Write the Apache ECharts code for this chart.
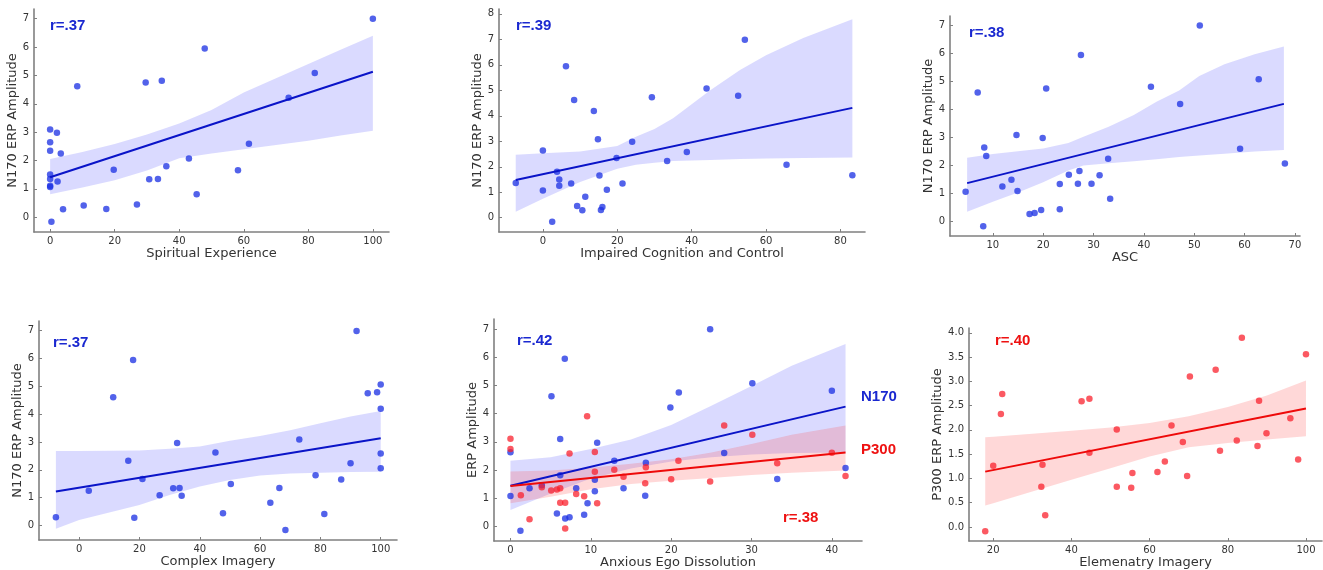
<!DOCTYPE html>
<html>
<head>
<meta charset="utf-8">
<script src="https://cdn.jsdelivr.net/npm/echarts@6/dist/echarts.min.js"></script>
<style>
  html, body { margin: 0; padding: 0; background: #fff; }
  #chart { width: 1323px; height: 570px; }
</style>
</head>
<body>
<div id="chart"></div>
<script>
// Spiritual Experience vs N170
const spiritualX = [0, 0, 0, 0, 0, 0, 0, 0.4, 2.1, 3.3, 2.3, 4.0, 8.4, 10.4, 17.4, 19.7, 26.9, 29.6, 30.7, 33.4, 34.6, 36.0, 43.0, 45.4, 47.9, 58.2, 61.6, 73.9, 82.0, 100];
const spiritualY = [3.09, 2.64, 2.34, 1.51, 1.35, 1.11, 1.07, -0.16, 2.98, 2.25, 1.26, 0.28, 4.62, 0.41, 0.29, 1.67, 0.45, 4.75, 1.34, 1.35, 4.81, 1.80, 2.07, 0.81, 5.95, 1.66, 2.59, 4.21, 5.08, 7.0];
const spiritualFitX = [0, 100];
const spiritualFitY = [1.41, 5.13];
const spiritualBandX = [0, 10, 20, 30, 40, 50, 60, 70, 80, 90, 100];
const spiritualBandHi = [2.05, 2.30, 2.58, 2.92, 3.30, 3.78, 4.40, 4.90, 5.40, 5.90, 6.40];
const spiritualBandLo = [0.81, 1.05, 1.30, 1.65, 2.08, 2.25, 2.40, 2.55, 2.70, 2.88, 3.05];

// Impaired Cognition and Control vs N170
const impairedX = [-7.3, 0, 0, 2.5, 3.8, 4.4, 4.4, 6.2, 7.6, 8.4, 9.2, 10.6, 11.4, 13.7, 14.8, 15.2, 15.6, 16.0, 17.2, 19.8, 21.4, 24.0, 29.3, 33.4, 38.7, 44.0, 52.5, 54.3, 65.5, 83.2];
const impairedY = [1.36, 2.64, 1.07, -0.16, 1.80, 1.50, 1.25, 5.94, 1.34, 4.62, 0.46, 0.29, 0.82, 4.19, 3.08, 1.66, 0.30, 0.42, 1.10, 2.34, 1.34, 2.98, 4.73, 2.23, 2.58, 5.07, 4.79, 6.98, 2.08, 1.67];
const impairedFitX = [-7.3, 83.2];
const impairedFitY = [1.48, 4.31];
const impairedBandX = [-7.3, 0, 10, 20, 25, 30, 35, 40, 45, 53, 60, 70, 83.2];
const impairedBandHi = [2.47, 2.53, 2.60, 2.81, 3.18, 3.48, 3.90, 4.45, 5.00, 5.80, 6.38, 7.05, 7.79];
const impairedBandLo = [0.23, 0.74, 1.40, 1.92, 2.08, 2.16, 2.23, 2.25, 2.27, 2.30, 2.32, 2.34, 2.36];

// ASC vs N170
const ascX = [4.6, 7.0, 8.1, 8.3, 8.7, 11.9, 13.7, 14.7, 14.9, 17.3, 18.3, 19.6, 19.9, 20.6, 23.3, 23.3, 25.1, 26.9, 27.2, 27.5, 29.6, 31.2, 32.9, 33.3, 41.4, 47.2, 51.1, 59.1, 62.8, 68.0];
const ascY = [1.06, 4.61, -0.17, 2.64, 2.34, 1.25, 1.49, 3.09, 1.09, 0.27, 0.30, 0.41, 2.98, 4.75, 1.34, 0.44, 1.67, 1.35, 1.80, 5.95, 1.35, 1.65, 2.24, 0.81, 4.81, 4.20, 7.0, 2.60, 5.08, 2.07];
const ascFitX = [4.9, 67.8];
const ascFitY = [1.37, 4.20];
const ascBandX = [4.9, 10, 15, 20, 25, 28, 33, 38, 42.5, 47, 51, 56, 62, 67.8];
const ascBandHi = [2.28, 2.41, 2.51, 2.61, 2.80, 3.03, 3.38, 3.80, 4.28, 4.68, 5.20, 5.62, 5.97, 6.25];
const ascBandLo = [0.35, 0.70, 1.03, 1.40, 1.82, 2.00, 2.08, 2.15, 2.22, 2.30, 2.36, 2.42, 2.50, 2.55];

// Complex Imagery vs N170
const complexX = [-7.7, 3.2, 11.3, 16.3, 17.9, 18.3, 21.0, 26.7, 31.2, 32.5, 33.3, 34.0, 45.2, 47.7, 50.3, 63.4, 66.4, 68.4, 73.0, 78.4, 81.3, 86.9, 90.0, 92.0, 95.7, 98.8, 100, 100, 100, 100];
const complexY = [0.30, 1.25, 4.61, 2.33, 5.95, 0.28, 1.67, 1.09, 1.34, 2.97, 1.35, 1.07, 2.62, 0.44, 1.49, 0.82, 1.35, -0.16, 3.09, 1.81, 0.41, 1.65, 2.24, 6.99, 4.75, 4.79, 5.07, 4.20, 2.59, 2.06];
const complexFitX = [-7.7, 100];
const complexFitY = [1.22, 3.14];
const complexBandX = [-7.7, 0, 10, 20, 30, 40, 50, 60, 70, 80, 90, 100];
const complexBandHi = [2.68, 2.68, 2.69, 2.70, 2.76, 2.84, 3.05, 3.22, 3.42, 3.68, 3.92, 4.12];
const complexBandLo = [-0.12, 0.20, 0.47, 0.74, 1.10, 1.40, 1.64, 1.80, 1.87, 1.90, 1.92, 1.93];

// Anxious Ego Dissolution vs N170 and P300
const anxiousN170X = [0, 0, 1.24, 2.37, 3.9, 5.1, 5.78, 6.19, 6.19, 6.76, 6.81, 7.35, 8.18, 9.17, 9.59, 10.5, 10.5, 10.79, 12.92, 14.07, 16.85, 16.77, 19.9, 20.95, 24.85, 26.6, 30.1, 33.2, 40, 41.7];
const anxiousN170Y = [2.63, 1.08, -0.16, 1.35, 1.46, 4.62, 0.46, 3.10, 1.81, 5.95, 0.28, 0.32, 1.35, 0.41, 0.82, 1.65, 1.25, 2.97, 2.33, 1.35, 2.26, 1.09, 4.22, 4.75, 7.0, 2.60, 5.08, 1.68, 4.81, 2.07];
const anxiousP300X = [0, 0, 1.29, 2.37, 3.9, 5.07, 5.78, 6.19, 6.19, 6.81, 6.81, 7.35, 8.18, 9.17, 9.54, 10.5, 10.5, 10.79, 12.92, 14.07, 16.85, 16.77, 20.0, 20.9, 24.85, 26.6, 30.1, 33.2, 40, 41.7];
const anxiousP300Y = [3.11, 2.75, 1.10, 0.25, 1.39, 1.27, 1.31, 1.35, 0.84, 0.84, -0.08, 2.59, 1.15, 1.07, 3.91, 2.64, 1.94, 0.82, 2.01, 1.76, 2.10, 1.53, 1.67, 2.33, 1.59, 3.58, 3.25, 2.24, 2.61, 1.79];
const anxiousN170FitX = [0, 41.7];
const anxiousN170FitY = [1.44, 4.25];
const anxiousP300FitX = [0, 41.7];
const anxiousP300FitY = [1.43, 2.62];
const anxiousBandX = [0, 5, 10, 15, 20, 25, 30, 35, 41.7];
const anxiousN170BandHi = [2.33, 2.45, 2.75, 3.08, 3.60, 4.28, 4.98, 5.70, 6.47];
const anxiousN170BandLo = [0.58, 1.17, 1.70, 2.05, 2.30, 2.45, 2.55, 2.60, 2.62];
const anxiousP300BandHi = [1.95, 1.98, 2.08, 2.22, 2.38, 2.62, 2.92, 3.25, 3.58];
const anxiousP300BandLo = [0.82, 1.05, 1.32, 1.50, 1.62, 1.72, 1.82, 1.90, 1.98];

// Elemenatry Imagery vs P300
const elementaryX = [17.95, 20, 21.96, 22.3, 32.3, 32.6, 33.3, 42.6, 44.6, 44.6, 51.6, 51.6, 55.3, 55.6, 62.0, 63.9, 65.6, 68.5, 69.6, 70.3, 76.9, 78.0, 82.3, 83.6, 87.6, 88.0, 89.9, 96.0, 98.0, 100];
const elementaryY = [-0.09, 1.26, 2.33, 2.74, 0.83, 1.28, 0.24, 2.59, 2.64, 1.53, 2.01, 0.83, 0.81, 1.11, 1.13, 1.35, 2.09, 1.75, 1.05, 3.10, 3.24, 1.57, 1.78, 3.90, 1.67, 2.60, 1.93, 2.24, 1.39, 3.56];
const elementaryFitX = [17.95, 100];
const elementaryFitY = [1.14, 2.44];
const elementaryBandX = [17.95, 20, 30, 40, 50, 60, 70, 80, 90, 100];
const elementaryBandHi = [1.85, 1.86, 1.92, 1.98, 2.05, 2.14, 2.28, 2.47, 2.71, 3.02];
const elementaryBandLo = [0.44, 0.49, 0.73, 0.97, 1.21, 1.45, 1.64, 1.73, 1.80, 1.87];

const tickN170 = [0, 1, 2, 3, 4, 5, 6, 7];
const tickN170b = [0, 1, 2, 3, 4, 5, 6, 7, 8];
const tickP300 = [0, 0.5, 1, 1.5, 2, 2.5, 3, 3.5, 4];
const tick100 = [0, 20, 40, 60, 80, 100];
const tick80 = [0, 20, 40, 60, 80];
const tickAsc = [10, 20, 30, 40, 50, 60, 70];
const tickAnx = [0, 10, 20, 30, 40];
const tickElem = [20, 40, 60, 80, 100];

const FONT = "'DejaVu Sans', sans-serif";
const BLUE = { point: 'rgba(28,48,228,0.95)', line: '#0a14c8', band: 'rgba(70,70,255,0.2)', text: '#1a28d0' };
const RED = { point: 'rgba(250,32,44,0.93)', line: '#ee0a0a', band: 'rgba(255,60,60,0.2)', text: '#ee1111' };

const option = { animation: false, grid: [], xAxis: [], yAxis: [], series: [], graphic: [] };

function zip(xs, ys) { return xs.map((x, i) => [x, ys[i]]); }

function addPanel(box, xr, yr, xTicks, yTicks, xName, yName, yNameGap, yFmt) {
  const i = option.grid.length;
  option.grid.push(Object.assign({ containLabel: false }, box));
  const axisCommon = {
    gridIndex: i, type: 'value',
    nameLocation: 'middle',
    nameTextStyle: { fontSize: 13, color: '#333', fontFamily: FONT },
    axisLine: { show: true, onZero: false, lineStyle: { color: '#808080', width: 1.6 } },
    splitLine: { show: false }
  };
  option.xAxis.push(Object.assign({}, axisCommon, {
    min: xr[0], max: xr[1], name: xName, nameGap: 15,
    axisTick: { show: true, inside: true, length: 3, customValues: xTicks, lineStyle: { color: '#808080' } },
    axisLabel: { customValues: xTicks, fontSize: 10, color: '#333', margin: 4, fontFamily: FONT }
  }));
  option.yAxis.push(Object.assign({}, axisCommon, {
    min: yr[0], max: yr[1], name: yName, nameGap: yNameGap, nameRotate: 90,
    axisTick: { show: true, inside: true, length: 3, customValues: yTicks, lineStyle: { color: '#808080' } },
    axisLabel: { customValues: yTicks, fontSize: 10, color: '#333', margin: 5, fontFamily: FONT, formatter: yFmt }
  }));
  return i;
}

function addFit(i, xs, ys, fitX, fitY, bandX, bandLo, bandHi, c) {
  option.series.push({
    type: 'custom', xAxisIndex: i, yAxisIndex: i, silent: true,
    data: [[bandX[0], bandLo[0]]],
    renderItem: function (params, api) {
      const pts = [];
      for (let k = 0; k < bandX.length; k++) pts.push(api.coord([bandX[k], bandHi[k]]));
      for (let k = bandX.length - 1; k >= 0; k--) pts.push(api.coord([bandX[k], bandLo[k]]));
      return { type: 'polygon', shape: { points: pts }, style: { fill: c.band } };
    }
  });
  option.series.push({
    type: 'scatter', xAxisIndex: i, yAxisIndex: i, symbolSize: 6.5,
    itemStyle: { color: c.point }, data: zip(xs, ys)
  });
  option.series.push({
    type: 'line', xAxisIndex: i, yAxisIndex: i, symbol: 'none',
    lineStyle: { color: c.line, width: 2 }, data: zip(fitX, fitY)
  });
}

function label(text, left, top, color) {
  option.graphic.push({
    type: 'text', left: left, top: top,
    style: { text: text, fill: color, font: "bold 15px 'Liberation Sans', Arial, sans-serif" }
  });
}

let p;
p = addPanel({ left: 34, top: 9, width: 355, height: 223 }, [-5, 105], [-0.52, 7.34], tick100, tickN170, 'Spiritual Experience', 'N170 ERP Amplitude', 13);
addFit(p, spiritualX, spiritualY, spiritualFitX, spiritualFitY, spiritualBandX, spiritualBandLo, spiritualBandHi, BLUE);

p = addPanel({ left: 499, top: 9, width: 366, height: 223 }, [-11.8, 86.6], [-0.56, 8.19], tick80, tickN170b, 'Impaired Cognition and Control', 'N170 ERP Amplitude', 13);
addFit(p, impairedX, impairedY, impairedFitX, impairedFitY, impairedBandX, impairedBandLo, impairedBandHi, BLUE);

p = addPanel({ left: 950, top: 16, width: 350, height: 220 }, [1.5, 71.0], [-0.52, 7.34], tickAsc, tickN170, 'ASC', 'N170 ERP Amplitude', 13);
addFit(p, ascX, ascY, ascFitX, ascFitY, ascBandX, ascBandLo, ascBandHi, BLUE);

p = addPanel({ left: 39, top: 321, width: 358, height: 219 }, [-13.3, 105.4], [-0.52, 7.35], tick100, tickN170, 'Complex Imagery', 'N170 ERP Amplitude', 13);
addFit(p, complexX, complexY, complexFitX, complexFitY, complexBandX, complexBandLo, complexBandHi, BLUE);

p = addPanel({ left: 494, top: 319, width: 368, height: 222 }, [-2.05, 43.75], [-0.52, 7.36], tickAnx, tickN170, 'Anxious Ego Dissolution', 'ERP Amplitude', 14);
addFit(p, anxiousN170X, anxiousN170Y, anxiousN170FitX, anxiousN170FitY, anxiousBandX, anxiousN170BandLo, anxiousN170BandHi, BLUE);
addFit(p, anxiousP300X, anxiousP300Y, anxiousP300FitX, anxiousP300FitY, anxiousBandX, anxiousP300BandLo, anxiousP300BandHi, RED);

p = addPanel({ left: 969, top: 328, width: 353, height: 213 }, [13.8, 104.1], [-0.29, 4.10], tickElem, tickP300, 'Elemenatry Imagery', 'P300 ERP Amplitude', 19, v => v.toFixed(1));
addFit(p, elementaryX, elementaryY, elementaryFitX, elementaryFitY, elementaryBandX, elementaryBandLo, elementaryBandHi, RED);

label('r=.37', 50, 18, BLUE.text);
label('r=.39', 516, 18, BLUE.text);
label('r=.38', 969, 25, BLUE.text);
label('r=.37', 53, 335, BLUE.text);
label('r=.42', 517, 333, BLUE.text);
label('N170', 861, 389, BLUE.text);
label('P300', 861, 442, RED.text);
label('r=.38', 783, 510, RED.text);
label('r=.40', 995, 333, RED.text);

const chart = echarts.init(document.getElementById('chart'));
chart.setOption(option);
</script>
</body>
</html>
